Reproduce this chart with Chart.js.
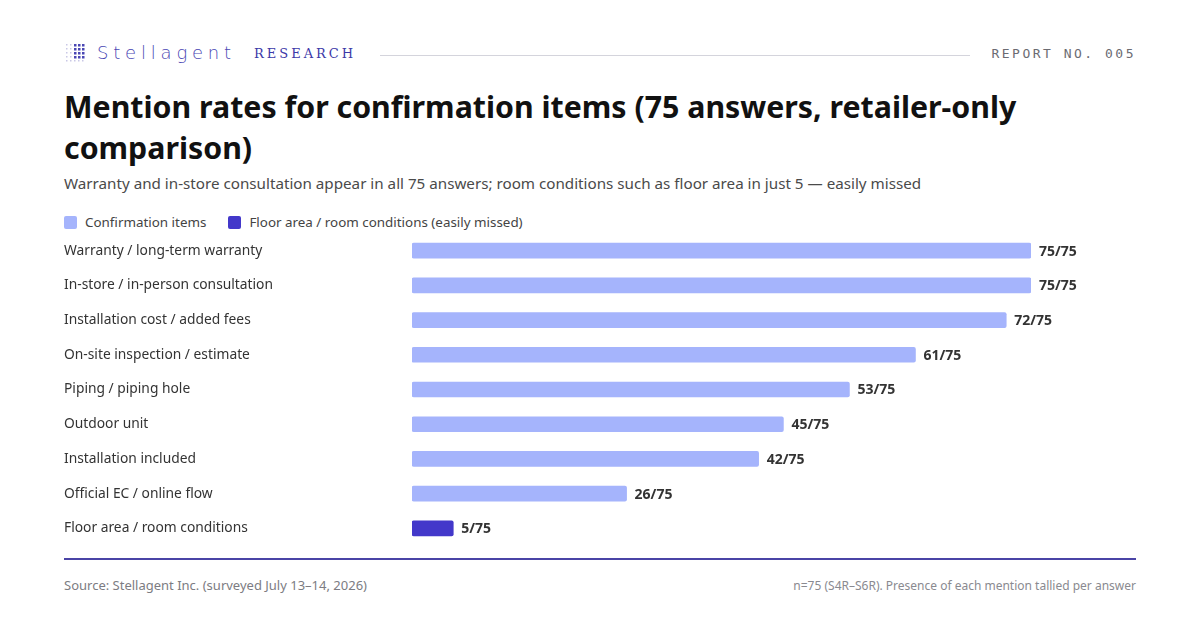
<!DOCTYPE html>
<html>
<head>
<meta charset="utf-8">
<script src="https://cdn.jsdelivr.net/npm/chart.js@4.4.1/dist/chart.umd.min.js"></script>
<style>
  body { margin: 0; background: #fff; font-family: "Noto Sans", sans-serif; }
  #page { position: relative; width: 1200px; height: 630px; overflow: hidden; }
  .abs { position: absolute; white-space: nowrap; }
  #dots { left: 66px; top: 44px; width: 20px; height: 20px; }
  #brand { left: 97px; top: 42px; font-family: "DejaVu Sans", sans-serif; font-size: 18px; letter-spacing: 4.8px; color: #4a47b4; font-weight: 300; }
  #research { left: 254px; top: 46px; font-family: "DejaVu Serif", serif; font-size: 13px; letter-spacing: 3px; color: #3d39a8; }
  #topline { left: 380px; top: 55px; width: 590px; height: 1px; background: #d4d4dc; }
  #report { right: 64px; top: 46px; font-family: "DejaVu Sans Mono", monospace; font-size: 13px; letter-spacing: 2.5px; color: #6b6b72; }
  #title { left: 64px; top: 86px; width: 1060px; font-size: 30.3px; font-weight: 700; line-height: 41px; color: #111; white-space: normal; }
  #subtitle { left: 64px; top: 173px; font-size: 15.2px; color: #4a4a4a; }
  #legend { left: 64px; top: 213px; font-size: 13.4px; color: #444; display: flex; gap: 22px; }
  #legend span.sw { display: inline-block; width: 13px; height: 13px; border-radius: 2px; margin-right: 8px; vertical-align: -2px; }
  #chartBox { left: 64px; top: 224.5px; width: 1072px; height: 329px; }
  #rule { left: 64px; top: 558px; width: 1072px; height: 2px; background: #4a44a6; }
  #source { left: 64px; top: 576px; font-size: 13px; color: #7c7c82; }
  #note { right: 64px; top: 577px; font-size: 12px; color: #8a8a90; }
</style>
</head>
<body>
<div id="page">
  <canvas id="dots" class="abs" width="20" height="20"></canvas>
  <div id="brand" class="abs">Stellagent</div>
  <div id="research" class="abs">RESEARCH</div>
  <div id="topline" class="abs"></div>
  <div id="report" class="abs">REPORT NO. 005</div>
  <div id="title" class="abs">Mention rates for confirmation items (75 answers, retailer-only comparison)</div>
  <div id="subtitle" class="abs">Warranty and in-store consultation appear in all 75 answers; room conditions such as floor area in just 5 — easily missed</div>
  <div id="legend" class="abs">
    <div><span class="sw" style="background:#a5b4fc"></span>Confirmation items</div>
    <div><span class="sw" style="background:#4338ca"></span>Floor area / room conditions (easily missed)</div>
  </div>
  <div id="chartBox" class="abs"><canvas id="chart"></canvas></div>
  <div id="rule" class="abs"></div>
  <div id="source" class="abs">Source: Stellagent Inc. (surveyed July 13–14, 2026)</div>
  <div id="note" class="abs">n=75 (S4R–S6R). Presence of each mention tallied per answer</div>
</div>
<script>
// datos del gráfico
const categorias = [
  'Warranty / long-term warranty',
  'In-store / in-person consultation',
  'Installation cost / added fees',
  'On-site inspection / estimate',
  'Piping / piping hole',
  'Outdoor unit',
  'Installation included',
  'Official EC / online flow',
  'Floor area / room conditions'
];
const menciones = [75, 75, 72, 61, 53, 45, 42, 26, 5];
const resaltado = [false, false, false, false, false, false, false, false, true];
const totalRespuestas = 75;

const colorNormal = '#a5b4fc';
const colorResaltado = '#4338ca';

// icono de puntos del logo
(function () {
  const c = document.getElementById('dots').getContext('2d');
  for (let r = 0; r < 5; r++) {
    for (let col = 0; col < 5; col++) {
      const fuerte = col >= 2 && r <= 3;
      c.fillStyle = fuerte ? '#4a47b4' : '#c9c8e6';
      c.fillRect(col * 4, r * 4, fuerte ? 2.5 : 1.5, fuerte ? 2.5 : 1.5);
    }
  }
})();

// etiquetas al final de cada barra
const etiquetasValor = {
  id: 'etiquetasValor',
  afterDatasetsDraw(chart) {
    const ctx = chart.ctx;
    const meta = chart.getDatasetMeta(0);
    ctx.save();
    ctx.font = '700 14px "Noto Sans", sans-serif';
    ctx.fillStyle = '#333';
    ctx.textBaseline = 'middle';
    meta.data.forEach((bar, i) => {
      ctx.fillText(menciones[i] + '/' + totalRespuestas, bar.x + 8, bar.y + 1);
    });
    ctx.restore();
  }
};

new Chart(document.getElementById('chart').getContext('2d'), {
  type: 'bar',
  data: {
    labels: categorias,
    datasets: [{
      data: menciones,
      backgroundColor: resaltado.map(r => r ? colorResaltado : colorNormal),
      barThickness: 15,
      borderRadius: 2,
      borderSkipped: false
    }]
  },
  options: {
    indexAxis: 'y',
    responsive: true,
    maintainAspectRatio: false,
    animation: false,
    layout: { padding: { left: 0, right: 105, top: 0, bottom: 0 } },
    plugins: { legend: { display: false }, tooltip: { enabled: false } },
    scales: {
      x: {
        min: 0,
        max: totalRespuestas,
        display: false
      },
      y: {
        grid: { display: false },
        border: { display: false },
        afterFit(scale) { scale.width = 348; },
        ticks: {
          crossAlign: 'far',
          padding: 0,
          color: '#333',
          font: { family: '"Noto Sans", sans-serif', size: 13.8 }
        }
      }
    }
  },
  plugins: [etiquetasValor]
});
</script>
</body>
</html>
